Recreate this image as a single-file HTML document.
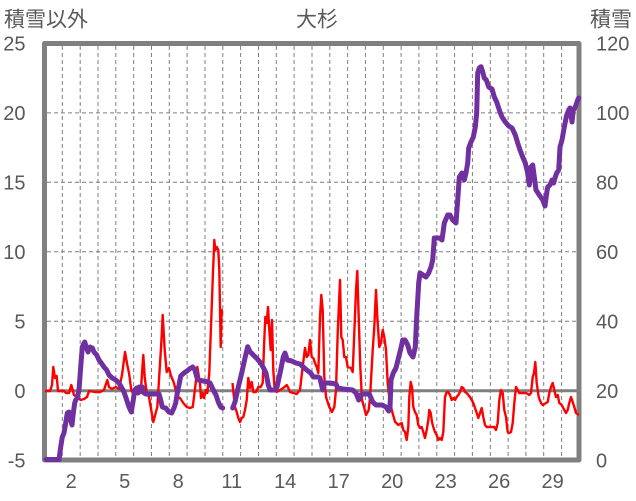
<!DOCTYPE html>
<html><head><meta charset="utf-8"><style>
html,body{margin:0;padding:0;background:#fff;}
svg{display:block;}
text{font-family:"Liberation Sans","Noto Sans CJK JP",sans-serif;fill:#595959;}
</style></head><body>
<svg width="636" height="501" viewBox="0 0 636 501" xmlns="http://www.w3.org/2000/svg">
<rect x="0" y="0" width="636" height="501" fill="#fff"/>
<!-- titles -->
<text x="4" y="26.5" font-size="21">積雪以外</text>
<text x="317" y="26.5" font-size="21" text-anchor="middle">大杉</text>
<text x="590" y="26.5" font-size="21">積雪</text>
<!-- gridlines -->
<g stroke="#7f7f7f" stroke-width="1" stroke-dasharray="4 3" fill="none">
<path d="M62.3 46V458M80.2 46V458M98 46V458M115.8 46V458M133.7 46V458M151.5 46V458M169.3 46V458M187.1 46V458M205 46V458M222.8 46V458M240.6 46V458M258.5 46V458M276.3 46V458M294.1 46V458M312 46V458M329.8 46V458M347.6 46V458M365.4 46V458M383.3 46V458M401.1 46V458M418.9 46V458M436.8 46V458M454.6 46V458M472.4 46V458M490.3 46V458M508.1 46V458M525.9 46V458M543.7 46V458M561.6 46V458"/>
<path d="M47 112.9H577M47 182.3H577M47 251.7H577M47 321.2H577"/>
</g>
<line x1="46" y1="390.8" x2="578" y2="390.8" stroke="#808080" stroke-width="3"/>
<!-- plot border -->
<rect x="44.5" y="43.5" width="534.5" height="416.5" fill="none" stroke="#808080" stroke-width="5" stroke-linejoin="round"/>
<!-- red series -->
<g fill="none" stroke="#ff0000" stroke-width="2.4" stroke-linejoin="round">
<polyline points="45,391 50,391 52,385 53.3,367 55,378 56.7,376 58,391 60,391 64,391 66,393 69,393 71.3,385 74,395 77,397 80.7,400 84,399 87,397 89,391 95,392 100,392 104,390 107.3,380 109,387 112,389 115.7,387 119,389 122,375 125,352 127.3,365 129,373 131.3,390 134,395 137,392 140.7,393 143.3,355 144.7,377 146.7,393 149,397 150.7,407 153.3,422 155.7,413 157.3,407 159,380 161.3,343 162.7,315 164.7,350 166.7,372 169,368 170.7,375 174,383 177.3,397 180,398 183.3,403 186.7,407 190,408 192.7,407 194,397 195.7,383 197.3,367 198.3,373 200,383 201,398 202.7,393 204,398 206,390 207.3,393 208.3,383 209.3,373 210,353 210.7,335 212.7,280 214.3,240 215.3,250 216.7,247 218.3,250 219.3,270 220.7,347 221.7,310 222.3,313"/>
<polyline points="232.5,383 233.7,395 235,407 236.7,412 238.3,418 240,422 241.7,418 243.3,417 245,410 246.7,400 248.3,378 250,388 251.7,382 253.3,392 256,392 258.3,387 260.7,387 262.7,383 264,347 265.3,317 266.7,323 268,307 269.3,330 270.7,350 272,320 273.3,370 274.7,390 276.7,392 280,390 283.3,388 286.7,385 288.3,388 290,392 293.3,393 296.7,394 300,390 302.3,370 305,348 306.7,357 308.3,355 310,340 311.7,357 313.3,358 315,363 316.7,367 318.3,373 320,317 321.3,295 322.7,310 324.3,377 326,397 329.3,407 332,412 334.3,407 336,390 337.7,333 340,280 341.3,337 342.7,340 344.3,357 346,357 347.7,367 351,368 352.7,372 354.3,333 356,290 357.3,271 358.7,317 360.3,367 362,400 364.3,408 366,415 368.7,410 370,398 372.7,350 374.3,327 376,290 377.3,317 379.3,347 381,343 382.7,330 384.3,337 386,350 387.7,383 389,395 391.7,410 395,421.7 398.3,425 401.7,423 403.3,430 405,432 406.7,440 408.3,427 409.3,397 410.7,382 412,387 413.3,407 415,412 416.7,415 418.3,425 420,428 421.7,427 423.3,432 425,438 426.7,430 428.3,420 429.3,410 430.7,413 432,422 433.3,427 435,432 436.7,435 438.3,440 440,438 441.7,440 443.3,432 445,397 446.7,392 448.3,392 450,395 451.7,400 453.3,398 455,400 456.7,397 458.3,395 460,392 461.7,387 463.3,388 465,392 466.7,393 470,397 471.7,400 473.3,403 475,408 476.7,413 478.3,418 480,413 481.7,408 483.3,417 485,425 486.7,427 490,427 492.7,427 494.3,427 496,430 497.7,423 499.3,400 501,390 502.7,393 504.3,410 506,417 507.7,432 509.3,433 511,432 512.7,423 514.3,403 516,387 517.7,390 519.3,393 522.7,393 526,393 529.3,395 531,393 532.7,377 534,373 535.3,362 536.7,383 538.7,397 541,403 542.7,405 546,403 547.7,402 549.3,393 551,387 552.7,383 554.3,390 556,397 557.7,395 559.3,403 561.7,405 564.3,410 566,413 567.7,410 569.3,403 571,397 572.7,402 574.3,407 576,413 579,415"/>
</g>
<!-- purple series -->
<g fill="none" stroke="#7030a0" stroke-width="5" stroke-linejoin="round" stroke-linecap="round">
<polyline points="46,459.5 59,459.5 60.7,447 62.3,437 64,433 65.7,423 67.3,413 69,412 70.7,420 72,425 73.3,413 74.7,403 75.7,400 77.3,398 79,390 80.7,367 82.3,347 84.7,342 86.3,347 88,352 90,347 92.3,348 94,352 96.7,355 99,360 101.3,363 104,367 106.7,370 109,375 112.3,378 115.7,380 119,383 121.3,387 124,392 126.7,400 129,407 131.3,412 133.3,400 134.7,390 136.7,388 138,393 139,387 140.7,390 142.3,387 144,393 145.7,394 154,394 159,394 160.7,400 162.3,407 165.7,408 169,412 171.7,413 174,408 175.7,403 177.3,393 179,385 180.7,376 184,373 187,371 190,368.5 192.7,367 195,370 196.7,377 198.3,380 206.7,381.7 210,383 213.3,390 216,395 218.3,402 220.7,407 222.7,408"/>
<polyline points="232.7,408 235,402 238.3,387 241.7,373 245,358 247.7,346.7 250,351.7 253.3,355 256.7,358.3 260.7,363 263,367 266,373 268.3,385 270,390 275,390 277,387 280.7,370 283.3,357 285,353 287.3,360 291.7,361 296,363 300,364 303.3,367 306.7,370 310.7,373 313.3,377 318.3,377 320,378 321,383 322.7,390 324.3,383 330,383 336,384 337.7,388 343,389 352.7,390 356,393 358.7,400 360.3,395 364,394 369.3,394 372.7,402 376,405 382,405 386,407 388.7,411 390,408 391,380 393.3,373 396,368 398.7,357 401,348 402.7,340 405,340 407.7,345 410,353 413,357 415.3,347 416.7,317 418.7,283 420,273 423,275 426,277 428.7,273 431,267 432.7,260 434.3,238 437,238 439.3,238 442,240 444.3,223 447.7,215 450,215 452.7,220 456,223 457.7,200 459.3,177 462,173 464.3,180 466,173 467.7,163 468.7,148 471,142 473.3,137 475.3,127 476.7,113 477.7,73 479.3,68 481,66.7 482.7,72 484.3,78 486.3,80 488.7,87 492,89 494.3,97 496.7,102 499.3,110 502,117 505.3,122 508.7,126 512,128 515.3,135 517.7,143 520,150 522.7,157 525.3,163 527.7,173 529.3,185 531,167 532.7,165 534.3,177 536,190 539.3,195 542.7,200 545,206 546.7,193 547.7,187 550,185 552,180 553.7,183 555.3,177 556.7,173 558.7,170 560,147 562,140 564.3,127 566.7,115 568.7,110 570,108 572,122 573.3,110 575.3,107 577.7,100 578.7,98"/>
</g>
<!-- left axis labels -->
<g font-size="20" text-anchor="end">
<text x="25.5" y="50.5">25</text>
<text x="25.5" y="120">20</text>
<text x="25.5" y="189.5">15</text>
<text x="25.5" y="259">10</text>
<text x="25.5" y="328.5">5</text>
<text x="25.5" y="398">0</text>
<text x="25.5" y="467.5">-5</text>
</g>
<!-- right axis labels -->
<g font-size="20">
<text x="596" y="50.5">120</text>
<text x="596" y="120">100</text>
<text x="596" y="189.5">80</text>
<text x="596" y="259">60</text>
<text x="596" y="328.5">40</text>
<text x="596" y="398">20</text>
<text x="596" y="467.5">0</text>
</g>
<!-- x axis labels -->
<g font-size="20" text-anchor="middle">
<text x="71.2" y="488">2</text>
<text x="124.7" y="488">5</text>
<text x="178.2" y="488">8</text>
<text x="231.7" y="488">11</text>
<text x="285.2" y="488">14</text>
<text x="338.7" y="488">17</text>
<text x="392.2" y="488">20</text>
<text x="445.7" y="488">23</text>
<text x="499.1" y="488">26</text>
<text x="552.6" y="488">29</text>
</g>
</svg>
</body></html>
